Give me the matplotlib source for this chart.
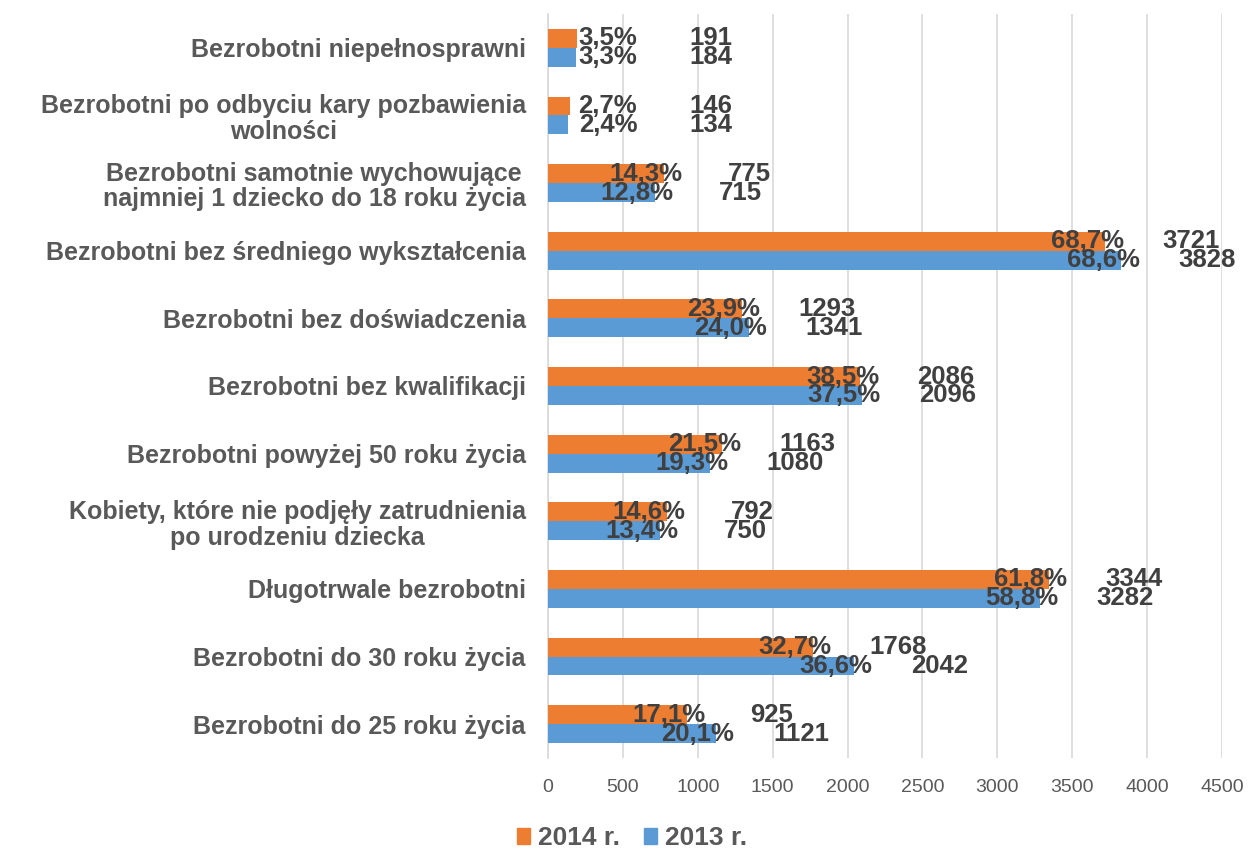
import numpy as np
import matplotlib.pyplot as plt
from matplotlib.patches import Patch

plt.rcParams['font.family'] = ['Liberation Sans', 'DejaVu Sans']

categories = [
    "Bezrobotni niepełnosprawni",
    "Bezrobotni po odbyciu kary pozbawienia\nwolności",
    "Bezrobotni samotnie wychowujące\nnajmniej 1 dziecko do 18 roku życia",
    "Bezrobotni bez średniego wykształcenia",
    "Bezrobotni bez doświadczenia",
    "Bezrobotni bez kwalifikacji",
    "Bezrobotni powyżej 50 roku życia",
    "Kobiety, które nie podjęły zatrudnienia\npo urodzeniu dziecka",
    "Długotrwale bezrobotni",
    "Bezrobotni do 30 roku życia",
    "Bezrobotni do 25 roku życia",
]
values_2014 = [191, 146, 775, 3721, 1293, 2086, 1163, 792, 3344, 1768, 925]
values_2013 = [184, 134, 715, 3828, 1341, 2096, 1080, 750, 3282, 2042, 1121]
pct_2014 = ["3,5%", "2,7%", "14,3%", "68,7%", "23,9%", "38,5%",
            "21,5%", "14,6%", "61,8%", "32,7%", "17,1%"]
pct_2013 = ["3,3%", "2,4%", "12,8%", "68,6%", "24,0%", "37,5%",
            "19,3%", "13,4%", "58,8%", "36,6%", "20,1%"]
x_ticks = [0, 500, 1000, 1500, 2000, 2500, 3000, 3500, 4000, 4500]

ORANGE = "#ED7D31"
BLUE = "#5B9BD5"
TEXT = "#404040"
LABEL = "#595959"

fig = plt.figure(figsize=(12.51, 8.52), dpi=100)
ax = fig.add_axes([548 / 1251, 1 - 758 / 852, (1222 - 548) / 1251, (758 - 14) / 852])

y = np.arange(len(categories))
h = 0.28
ax.barh(y - h / 2, values_2014, height=h, color=ORANGE, zorder=3)
ax.barh(y + h / 2, values_2013, height=h, color=BLUE, zorder=3)

ax.set_xlim(0, 4500)
ax.set_ylim(len(categories) - 0.5, -0.5)
ax.set_xticks(x_ticks)
ax.set_xticklabels([str(t) for t in x_ticks], fontsize=14, color=LABEL)
ax.set_yticks(y)
ax.set_yticklabels(categories, fontsize=18, fontweight="bold", color=LABEL,
                   multialignment="center", linespacing=1.1)
ax.tick_params(axis="both", length=0)
ax.tick_params(axis="x", pad=15)
ax.tick_params(axis="y", pad=16)
ax.grid(axis="x", color="#D9D9D9", linewidth=1.2, zorder=0)
for side in ["top", "right", "bottom"]:
    ax.spines[side].set_visible(False)
ax.spines["left"].set_color("#D9D9D9")
ax.spines["left"].set_linewidth(1.2)


def add_labels(offset, values, pcts):
    for i, (v, p) in enumerate(zip(values, pcts)):
        xc = max(v - 120, 400)
        ax.text(xc, i + offset, p, ha="center", va="center", fontsize=18.5,
                fontweight="bold", color=TEXT, zorder=4)
        ax.text(xc + 690, i + offset, str(v), ha="center", va="center",
                fontsize=18.5, fontweight="bold", color=TEXT, zorder=4)


add_labels(-h / 2, values_2014, pct_2014)
add_labels(h / 2, values_2013, pct_2013)

handles = [Patch(color=ORANGE, label="2014 r."), Patch(color=BLUE, label="2013 r.")]
leg = fig.legend(handles=handles, loc="center", bbox_to_anchor=(0.505, 0.016), ncol=2,
                 frameon=False, handlelength=0.5, handleheight=0.5, handletextpad=0.3,
                 columnspacing=0.9, fontsize=19)
for t in leg.get_texts():
    t.set_fontweight("bold")
    t.set_color(LABEL)

fig.savefig("out.png", dpi=100)
